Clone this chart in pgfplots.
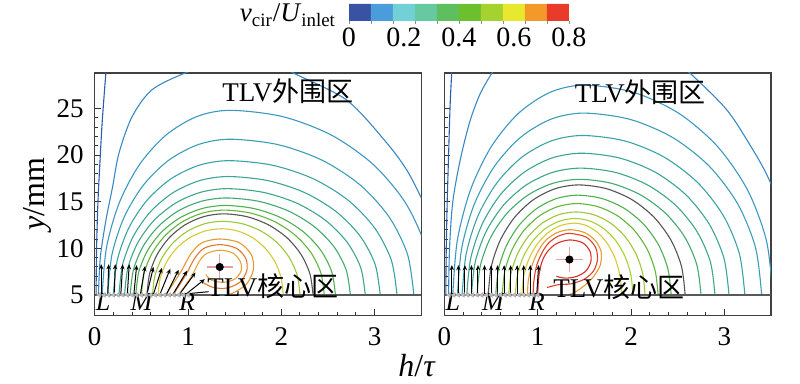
\documentclass[border=0pt]{standalone}
\usepackage{fontspec}
\setmainfont{Liberation Serif}
\newfontfamily\cjk{Noto Sans CJK SC}
\usepackage{pgfplots}
\pgfplotsset{compat=1.18}
\usetikzlibrary{arrows.meta}
\definecolor{c1}{HTML}{3953A4}
\definecolor{c2}{HTML}{4A9CDB}
\definecolor{c3}{HTML}{72D1D6}
\definecolor{c4}{HTML}{66C9A0}
\definecolor{c5}{HTML}{5DBF5E}
\definecolor{c6}{HTML}{6CC02E}
\definecolor{c7}{HTML}{A6D22F}
\definecolor{c8}{HTML}{E8E82F}
\definecolor{c9}{HTML}{F3992A}
\definecolor{c10}{HTML}{E93A2A}
\definecolor{sA}{HTML}{2B5DA6}
\definecolor{sB}{HTML}{3A88C4}
\definecolor{sC}{HTML}{3C97C2}
\definecolor{sD}{HTML}{3A9EB6}
\definecolor{sE}{HTML}{3AA3A6}
\definecolor{sF}{HTML}{3BA596}
\definecolor{sG}{HTML}{3DA786}
\definecolor{sH}{HTML}{42AA70}
\definecolor{sI}{HTML}{4FB050}
\definecolor{sI2}{HTML}{62B63A}
\definecolor{sGr}{HTML}{555555}
\definecolor{sJ}{HTML}{9CC83A}
\definecolor{sK}{HTML}{D6CA36}
\definecolor{sL}{HTML}{E49A2E}
\definecolor{sM}{HTML}{E0782A}
\definecolor{sN}{HTML}{E3A53A}
\definecolor{sR1}{HTML}{DD3F2A}
\definecolor{sR2}{HTML}{D42E28}
\definecolor{crossc}{HTML}{E8A0A0}
\newcommand{\tfs}{\fontsize{13.5}{15}\selectfont}
\newcommand{\ofs}{\fontsize{12}{14}\selectfont}
\newcommand{\lfs}{\fontsize{16}{18}\selectfont}
\newcommand{\afs}{\fontsize{13.5}{15}\selectfont}
\newcommand{\mfs}{\fontsize{13}{14}\selectfont\itshape}
\pgfplotsset{
  panel/.style={
    scale only axis, width=163.3pt, height=121.25pt,
    anchor=south west,
    xmin=0, xmax=3.5, ymin=2.8, ymax=28.8,
    xtick={0,1,2,3}, minor x tick num=4,
    ytick={5,10,15,20,25}, minor y tick num=4,
    xtick pos=left, ytick pos=left,
    tick align=inside,
    major tick length=3pt, minor tick length=1.6pt,
    tick style={black!80, line width=0.5pt},
    axis line style={black!75, line width=0.6pt},
    ticklabel style={font=\tfs},
    xticklabel style={anchor=base, yshift=-15pt},
    yticklabel style={xshift=-2pt},
    /pgf/number format/assume math mode=true,
  },
  sl/.style={smooth, line width=0.55pt, no marks},
}
\begin{document}
\begin{tikzpicture}
\path[use as bounding box] (0,0) rectangle (400pt,192pt);

% ---------------- colour bar ----------------
\begin{axis}[name=cbar, at={(174.5pt,181.5pt)}, anchor=south west, scale only axis,
  width=110pt, height=8.5pt, xmin=0, xmax=0.8, ymin=0, ymax=1,
  axis line style={draw=none}, ytick=\empty,
  xtick={0,0.2,0.4,0.6,0.8}, major tick length=0pt,
  minor xtick={0,0.08,0.16,0.24,0.32,0.4,0.48,0.56,0.64,0.72,0.8},
  minor tick length=1.5pt, tick align=outside, xtick pos=left,
  tick style={black!45, line width=0.4pt},
  xticklabel style={font=\fontsize{14}{15}\selectfont, yshift=0pt},
  /pgf/number format/assume math mode=true,
  xticklabels={0,0.2,0.4,0.6,0.8}]
\addplot[fill=c1,draw=none] coordinates {(0,0)(0.08,0)(0.08,1)(0,1)} \closedcycle;
\addplot[fill=c2,draw=none] coordinates {(0.08,0)(0.16,0)(0.16,1)(0.08,1)} \closedcycle;
\addplot[fill=c3,draw=none] coordinates {(0.16,0)(0.24,0)(0.24,1)(0.16,1)} \closedcycle;
\addplot[fill=c4,draw=none] coordinates {(0.24,0)(0.32,0)(0.32,1)(0.24,1)} \closedcycle;
\addplot[fill=c5,draw=none] coordinates {(0.32,0)(0.40,0)(0.40,1)(0.32,1)} \closedcycle;
\addplot[fill=c6,draw=none] coordinates {(0.40,0)(0.48,0)(0.48,1)(0.40,1)} \closedcycle;
\addplot[fill=c7,draw=none] coordinates {(0.48,0)(0.56,0)(0.56,1)(0.48,1)} \closedcycle;
\addplot[fill=c8,draw=none] coordinates {(0.56,0)(0.64,0)(0.64,1)(0.56,1)} \closedcycle;
\addplot[fill=c9,draw=none] coordinates {(0.64,0)(0.72,0)(0.72,1)(0.64,1)} \closedcycle;
\addplot[fill=c10,draw=none] coordinates {(0.72,0)(0.80,0)(0.80,1)(0.72,1)} \closedcycle;
\end{axis}
\node[anchor=base east, font=\fontsize{13.5}{15}\selectfont] at ([xshift=-3pt,yshift=-0.5pt]cbar.south west)
  {\textit{v}\textsubscript{cir}/\textit{U}\textsubscript{inlet}};

% ---------------- left panel (PT_out) ----------------
\begin{axis}[panel, at={(47.35pt,34.25pt)},
  ylabel={\textit{y}/mm}, ylabel style={font=\lfs, at={(axis description cs:-0.175,0.5)}, anchor=center},
  xlabel={\textit{h}/\textit{τ}}, xlabel style={font=\lfs, at={(axis description cs:0.987,-0.208)}, anchor=center}]
\addplot[sl, sA] coordinates {(0.015,5)(0.02,10)(0.035,15)(0.055,19)(0.08,23.5)(0.12,28.8)(0.14,30.5)};
\addplot[sl, sB] coordinates {(0.04,5)(0.06,9)(0.12,13)(0.19,16.5)(0.26,20.2)(0.4,24.1)(0.614,27)(0.97,28.8)(1.3,29.8)};
\addplot[sl, sB] coordinates {(1.95,30)(2.13,28.8)(2.7,25.9)(3.13,21.3)(3.35,18.3)(3.51,15.2)(3.58,13.5)};
\addplot[sl, sC] coordinates {(0.08,5)(0.127,10.13)(0.264,14.9)(0.481,19.0)(0.765,22.15)(1.095,24.13)(1.45,24.8)(2.012,24.13)(2.535,22.15)(2.984,19.0)(3.329,14.9)(3.546,10.13)(3.62,5)};
\addplot[sl, sD] coordinates {(0.14,5)(0.185,9.33)(0.316,13.35)(0.524,16.81)(0.795,19.46)(1.111,21.13)(1.45,21.7)(1.96,21.13)(2.435,19.46)(2.843,16.81)(3.156,13.35)(3.353,9.33)(3.42,5)};
\addplot[sl, sE] coordinates {(0.2,5)(0.242,8.73)(0.366,12.2)(0.563,15.18)(0.82,17.47)(1.119,18.91)(1.44,19.4)(1.906,18.91)(2.34,17.47)(2.713,15.18)(2.999,12.2)(3.179,8.73)(3.24,5)};
\addplot[sl, sF] coordinates {(0.26,5)(0.3,8.29)(0.417,11.35)(0.603,13.98)(0.845,16.0)(1.127,17.27)(1.43,17.7)(1.852,17.27)(2.245,16.0)(2.582,13.98)(2.842,11.35)(3.005,8.29)(3.06,5)};
\addplot[sl, sG] coordinates {(0.32,5)(0.357,7.95)(0.467,10.7)(0.642,13.06)(0.87,14.87)(1.135,16.01)(1.42,16.4)(1.803,16.01)(2.16,14.87)(2.466,13.06)(2.702,10.7)(2.85,7.95)(2.9,5)};
\addplot[sl, sH] coordinates {(0.38,5)(0.415,7.69)(0.518,10.2)(0.682,12.35)(0.895,14.01)(1.143,15.05)(1.41,15.4)(1.754,15.05)(2.075,14.01)(2.35,12.35)(2.562,10.2)(2.695,7.69)(2.74,5)};
\addplot[sl, sI] coordinates {(0.44,5)(0.473,7.49)(0.569,9.8)(0.721,11.79)(0.92,13.31)(1.151,14.27)(1.4,14.6)(1.706,14.27)(1.99,13.31)(2.234,11.79)(2.422,9.8)(2.54,7.49)(2.58,5)};
\addplot[sl, sI2] coordinates {(0.5,5)(0.53,7.36)(0.619,9.55)(0.761,11.43)(0.945,12.88)(1.159,13.79)(1.39,14.1)(1.667,13.79)(1.925,12.88)(2.146,11.43)(2.317,9.55)(2.424,7.36)(2.46,5)};
\addplot[sl, sGr] coordinates {(0.56,5)(0.588,7.25)(0.67,9.35)(0.80,11.15)(0.97,12.53)(1.168,13.40)(1.38,13.7)(1.629,13.40)(1.86,12.53)(2.059,11.15)(2.211,9.35)(2.307,7.25)(2.34,5)};
\addplot[sl, sJ] coordinates {(0.62,5)(0.645,7.05)(0.72,8.95)(0.84,10.59)(0.995,11.84)(1.176,12.63)(1.37,12.9)(1.585,12.63)(1.785,11.84)(1.957,10.59)(2.089,8.95)(2.172,7.05)(2.2,5)};
\addplot[sl, sK] coordinates {(0.68,5)(0.703,6.84)(0.771,8.55)(0.879,10.02)(1.02,11.15)(1.184,11.86)(1.36,12.1)(1.531,11.86)(1.69,11.15)(1.827,10.02)(1.932,8.55)(1.998,6.84)(2.02,5)};
\addplot[sl, sL] coordinates {(0.76,5)(0.84,6.2)(0.93,7.6)(1.03,9.4)(1.15,10.6)(1.34,11.0)(1.55,10.6)(1.68,9.3)(1.7,7.7)(1.63,6.2)(1.5,5.3)(1.42,5.0)};
\addplot[sl, sM] coordinates {(0.84,5)(0.91,6.1)(0.99,7.4)(1.07,8.9)(1.17,10.0)(1.34,10.4)(1.52,10.0)(1.62,8.9)(1.63,7.6)(1.56,6.4)(1.42,5.75)(1.27,5.8)(1.15,6.4)};
\addplot[sl, sN] coordinates {(0.9,5)(0.97,6.0)(1.05,7.2)(1.12,8.6)(1.2,9.45)(1.34,9.8)(1.48,9.5)(1.56,8.6)(1.57,7.6)(1.5,6.7)(1.38,6.35)(1.25,6.6)(1.19,7.2)};
% floor line
\addplot[black!65, line width=0.6pt] coordinates {(0,5)(3.5,5)};
% vortex centre
\addplot[crossc, line width=0.6pt] coordinates {(1.2,8.0)(1.48,8.0)};
\addplot[crossc, line width=0.6pt] coordinates {(1.34,6.6)(1.34,9.4)};
\addplot[only marks, mark=*, mark size=1.8pt, black] coordinates {(1.34,8.0)};
% outlet markers
\addplot[only marks, mark=triangle*, mark size=1.2pt, mark options={rotate=90, fill=gray!50, draw=gray!60}] coordinates {(0.05,5)(0.1,5)(0.15,5)(0.2,5)(0.25,5)(0.3,5)(0.35,5)(0.4,5)(0.45,5)(0.5,5)(0.55,5)(0.6,5)(0.65,5)(0.7,5)(0.75,5)(0.8,5)(0.85,5)(0.9,5)(0.95,5)(1.0,5)};
% jet arrows
\addplot[black, line width=0.5pt, -{Stealth[length=2.6pt,width=2.2pt]}, quiver={u=\thisrow{u}, v=\thisrow{v}}] table {
x y u v
0.07 5.1 0.00 3.2
0.14 5.1 0.01 3.2
0.21 5.1 0.01 3.2
0.28 5.1 0.02 3.2
0.35 5.1 0.02 3.2
0.42 5.1 0.03 3.1
0.49 5.1 0.05 3.0
0.56 5.1 0.07 2.9
0.63 5.1 0.09 2.8
0.70 5.1 0.11 2.7
0.77 5.1 0.13 2.6
0.84 5.1 0.15 2.5
0.91 5.1 0.17 2.3
0.98 5.1 0.20 1.6
};
\addplot[black, line width=0.5pt] coordinates {(1.01,5.15)(1.22,5.35)};
\node[font=\mfs] at (axis cs:0.09,4.2) {L};
\node[font=\mfs] at (axis cs:0.50,4.2) {M};
\node[font=\mfs] at (axis cs:0.99,4.2) {R};
\node[font=\afs] at (axis cs:2.07,26.8) {TLV{\cjk 外围区}};
\node[font=\afs] at (axis cs:1.91,5.9) {TLV{\cjk 核心区}};
\node[font=\ofs, anchor=base] at (axis cs:0.52,2.8) [yshift=-15pt] {PT\_out};
\end{axis}

% ---------------- right panel (RT_out) ----------------
\begin{axis}[panel, at={(222.2pt,34.25pt)}, yticklabels={}]
\addplot[sl, sA] coordinates {(0.015,5)(0.02,10)(0.03,15)(0.045,20)(0.06,25)(0.078,28.8)(0.09,30.5)};
\addplot[sl, sB] coordinates {(0.045,5)(0.055,10)(0.09,15)(0.17,19.5)(0.27,23.5)(0.38,26.5)(0.51,28.8)(0.62,30.3)};
\addplot[sl, sB] coordinates {(2.45,30.2)(2.63,28.8)(3.03,24.8)(3.31,20.5)(3.45,18)(3.56,15.5)};
\addplot[sl, sC] coordinates {(0.09,5)(0.138,10.83)(0.279,16.25)(0.503,20.91)(0.795,24.49)(1.135,26.74)(1.5,27.5)(2.023,26.74)(2.51,24.49)(2.928,20.91)(3.249,16.25)(3.451,10.83)(3.52,5)};
\addplot[sl, sD] coordinates {(0.14,5)(0.186,10.05)(0.321,14.75)(0.536,18.79)(0.815,21.89)(1.14,23.84)(1.49,24.5)(1.985,23.84)(2.445,21.89)(2.84,18.79)(3.144,14.75)(3.335,10.05)(3.40,5)};
\addplot[sl, sE] coordinates {(0.19,5)(0.234,9.43)(0.363,13.55)(0.568,17.09)(0.835,19.81)(1.146,21.52)(1.48,22.1)(1.931,21.52)(2.35,19.81)(2.71,17.09)(2.987,13.55)(3.161,9.43)(3.22,5)};
\addplot[sl, sF] coordinates {(0.24,5)(0.282,8.94)(0.405,12.6)(0.60,15.75)(0.855,18.16)(1.151,19.68)(1.47,20.2)(1.879,19.68)(2.26,18.16)(2.587,15.75)(2.838,12.6)(2.996,8.94)(3.05,5)};
\addplot[sl, sG] coordinates {(0.29,5)(0.33,8.52)(0.447,11.8)(0.633,14.62)(0.875,16.78)(1.157,18.14)(1.46,18.6)(1.833,18.14)(2.18,16.78)(2.478,14.62)(2.707,11.8)(2.851,8.52)(2.9,5)};
\addplot[sl, sH] coordinates {(0.35,5)(0.387,8.21)(0.497,11.2)(0.672,13.77)(0.90,15.74)(1.165,16.98)(1.45,17.4)(1.787,16.98)(2.1,15.74)(2.369,13.77)(2.576,11.2)(2.706,8.21)(2.75,5)};
\addplot[sl, sGr] coordinates {(0.47,5)(0.503,8.06)(0.60,10.9)(0.754,13.34)(0.955,15.22)(1.189,16.4)(1.44,16.8)(1.735,16.4)(2.01,15.22)(2.246,13.34)(2.427,10.9)(2.541,8.06)(2.58,5)};
\addplot[sl, sI] coordinates {(0.55,5)(0.58,7.77)(0.668,10.35)(0.808,12.56)(0.99,14.27)(1.202,15.34)(1.43,15.7)(1.689,15.34)(1.93,14.27)(2.137,12.56)(2.296,10.35)(2.396,7.77)(2.43,5)};
\addplot[sl, sI2] coordinates {(0.62,5)(0.647,7.54)(0.727,9.9)(0.854,11.93)(1.02,13.49)(1.213,14.47)(1.42,14.8)(1.645,14.47)(1.855,13.49)(2.035,11.93)(2.173,9.9)(2.26,7.54)(2.29,5)};
\addplot[sl, sJ] coordinates {(0.69,5)(0.714,7.31)(0.786,9.45)(0.901,11.29)(1.05,12.71)(1.224,13.6)(1.41,13.9)(1.602,13.6)(1.78,12.71)(1.933,11.29)(2.051,9.45)(2.125,7.31)(2.15,5)};
\addplot[sl, c7] coordinates {(0.76,5)(0.782,7.12)(0.846,9.1)(0.948,10.8)(1.08,12.1)(1.234,12.92)(1.40,13.2)(1.561,12.92)(1.71,12.1)(1.838,10.8)(1.937,9.1)(1.999,7.12)(2.02,5)};
\addplot[sl, sK] coordinates {(0.83,5)(0.849,6.99)(0.905,8.85)(0.994,10.44)(1.11,11.67)(1.245,12.44)(1.39,12.7)(1.522,12.44)(1.645,11.67)(1.751,10.44)(1.832,8.85)(1.883,6.99)(1.9,5)};
\addplot[sl, sL] coordinates {(0.89,5)(0.9,6.6)(0.94,8.2)(1.0,9.6)(1.08,10.8)(1.2,11.65)(1.34,12.0)(1.5,11.7)(1.62,10.8)(1.68,9.6)(1.67,8.2)(1.6,7.0)(1.5,6.0)(1.4,5.3)(1.32,5)};
\addplot[sl, sR1] coordinates {(0.95,5)(0.96,6.6)(0.99,8.2)(1.05,9.6)(1.12,10.6)(1.22,11.3)(1.34,11.6)(1.52,11.2)(1.62,10.1)(1.64,8.8)(1.6,7.6)(1.5,6.7)(1.36,6.2)(1.22,6.1)(1.1,5.8)};
\addplot[sl, sR2] coordinates {(1.0,5)(1.01,6.8)(1.04,8.4)(1.1,9.6)(1.2,10.5)(1.34,10.9)(1.48,10.6)(1.56,9.7)(1.57,8.6)(1.52,7.6)(1.42,7.0)(1.3,6.8)(1.2,7.0)};
\addplot[black!65, line width=0.6pt] coordinates {(0,5)(3.5,5)};
\addplot[crossc, line width=0.6pt] coordinates {(1.2,8.8)(1.48,8.8)};
\addplot[crossc, line width=0.6pt] coordinates {(1.34,7.5)(1.34,10.1)};
\addplot[only marks, mark=*, mark size=1.8pt, black] coordinates {(1.34,8.8)};
\addplot[only marks, mark=triangle*, mark size=1.2pt, mark options={rotate=90, fill=gray!50, draw=gray!60}] coordinates {(0.05,5)(0.1,5)(0.15,5)(0.2,5)(0.25,5)(0.3,5)(0.35,5)(0.4,5)(0.45,5)(0.5,5)(0.55,5)(0.6,5)(0.65,5)(0.7,5)(0.75,5)(0.8,5)(0.85,5)(0.9,5)(0.95,5)(1.0,5)};
\addplot[black, line width=0.5pt, -{Stealth[length=2.6pt,width=2.2pt]}, quiver={u=\thisrow{u}, v=\thisrow{v}}] table {
x y u v
0.08 5.1 0 3.1
0.15 5.1 0 3.1
0.22 5.1 0 3.1
0.29 5.1 0 3.1
0.36 5.1 0 3.1
0.43 5.1 0 3.1
0.50 5.1 0 3.1
0.57 5.1 0 3.1
0.64 5.1 0 3.1
0.71 5.1 0 3.1
0.78 5.1 0 3.1
0.85 5.1 0 3.1
0.92 5.1 0 3.1
0.99 5.1 0.02 3.1
};
\node[font=\mfs] at (axis cs:0.09,4.3) {L};
\node[font=\mfs] at (axis cs:0.52,4.3) {M};
\node[font=\mfs] at (axis cs:0.99,4.3) {R};
\node[font=\afs] at (axis cs:2.1,26.7) {TLV{\cjk 外围区}};
\node[font=\afs] at (axis cs:1.87,5.8) {TLV{\cjk 核心区}};
\node[font=\ofs, anchor=base] at (axis cs:0.5,2.8) [yshift=-15pt] {RT\_out};
\end{axis}
\end{tikzpicture}
\end{document}
